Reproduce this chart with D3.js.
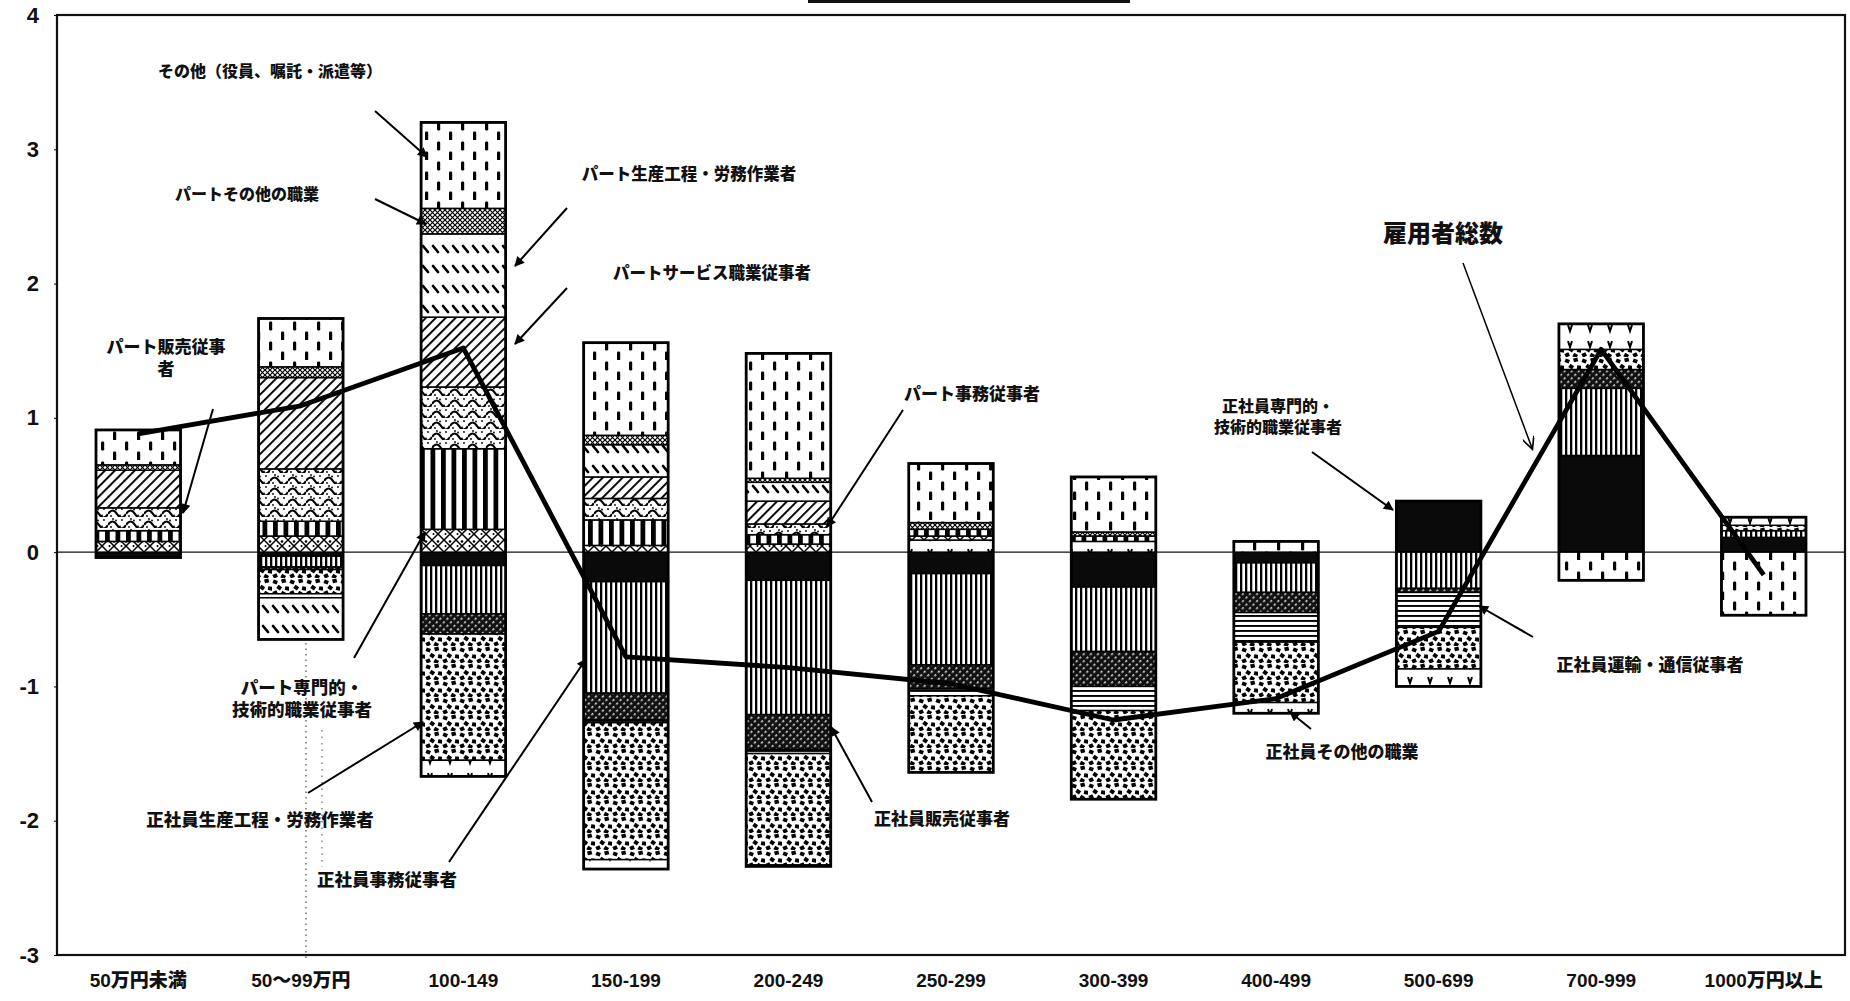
<!DOCTYPE html>
<html>
<head>
<meta charset="utf-8">
<script src="https://cdnjs.cloudflare.com/ajax/libs/d3/7.8.5/d3.min.js"></script>
<style>
body { margin: 0; background: #fff; }
text { font-family: "Noto Sans CJK JP", sans-serif; font-weight: 900; fill: #111; }
.num text, text.num { font-family: "Liberation Sans Narrow", "Liberation Sans", Arial, sans-serif; }
</style>
</head>
<body>
<div id="chart"></div>
<script>
// income bands (x axis)
var categories = ["50万円未満", "50～99万円", "100-149", "150-199", "200-249", "250-299",
	"300-399", "400-499", "500-699", "700-999", "1000万円以上"];

var seriesNames = [
	"正社員専門的・技術的職業従事者", "正社員事務従事者", "正社員販売従事者", "正社員運輸・通信従事者",
	"正社員生産工程・労務作業者", "正社員その他の職業",
	"パート専門的・技術的職業従事者", "パート事務従事者", "パート販売従事者", "パートサービス職業従事者",
	"パート生産工程・労務作業者", "パートその他の職業", "その他（役員、嘱託・派遣等）"];

// contribution of each group, one value per income band
var seiSenmon  = [-0.04, -0.03, -0.10, -0.22, -0.21, -0.16, -0.26, -0.08,  0.38,  0.72,  0.11];
var seiJimu    = [ 0.00, -0.08, -0.36, -0.83, -1.00, -0.68, -0.48, -0.22, -0.27,  0.50,  0.05];
var seiHanbai  = [ 0.00, -0.02, -0.15, -0.20, -0.26, -0.18, -0.26, -0.15, -0.03,  0.14,  0.00];
var seiUnyu    = [ 0.00,  0.00,  0.00, -0.02, -0.03, -0.05, -0.18, -0.22, -0.26,  0.00,  0.00];
var seiSeisan  = [ 0.00, -0.18, -0.94, -1.02, -0.83, -0.57, -0.66, -0.45, -0.31,  0.15,  0.04];
var seiSonota  = [ 0.00, -0.03, -0.12, -0.07, -0.01,  0.09,  0.08, -0.08, -0.13,  0.19,  0.06];
var paSenmon   = [ 0.08,  0.12,  0.17,  0.05,  0.06,  0.03,  0.00,  0.00,  0.00,  0.00,  0.00];
var paJimu     = [ 0.08,  0.11,  0.60,  0.19,  0.07,  0.05,  0.04,  0.00,  0.00,  0.00,  0.00];
var paHanbai   = [ 0.17,  0.39,  0.46,  0.16,  0.08,  0.00,  0.00,  0.00,  0.00,  0.00,  0.00];
var paService  = [ 0.28,  0.68,  0.52,  0.16,  0.17,  0.00,  0.00,  0.00,  0.00,  0.00,  0.00];
var paSeisan   = [ 0.00, -0.31,  0.62,  0.24,  0.14,  0.00,  0.00,  0.00,  0.00,  0.00,  0.00];
var paSonota   = [ 0.04,  0.08,  0.19,  0.07,  0.03,  0.05,  0.03,  0.00,  0.00,  0.00,  0.00];
var sonota     = [ 0.26,  0.36,  0.64,  0.69,  0.93,  0.44,  0.41,  0.08,  0.00, -0.21, -0.47];

// 雇用者総数 line
var totals = [0.88, 1.09, 1.52, -0.78, -0.86, -0.98, -1.25, -1.09, -0.59, 1.51, -0.17];

var yTicks = [-3, -2, -1, 0, 1, 2, 3, 4];

var seriesValues = [seiSenmon, seiJimu, seiHanbai, seiUnyu, seiSeisan, seiSonota,
	paSenmon, paJimu, paHanbai, paService, paSeisan, paSonota, sonota];

function addPatterns(defs) {
	function pat(id, w, h, rot, bg) {
		var p = defs.append("pattern")
			.attr("id", id)
			.attr("patternUnits", "userSpaceOnUse")
			.attr("width", w)
			.attr("height", h);
		if (rot) p.attr("patternTransform", "rotate(" + rot + ")");
		p.append("rect").attr("width", w).attr("height", h).attr("fill", bg || "#fff");
		return p;
	}
	var p;
	// 正社員事務: thin vertical lines
	pat("p1", 5, 10).append("rect").attr("width", 2.3).attr("height", 10).attr("fill", "#000");
	// 正社員販売: dark diagonal with light dots
	p = pat("p2", 5, 5, 45, "#111");
	p.append("rect").attr("x", 3.2).attr("width", 1.3).attr("height", 2.4).attr("fill", "#fff");
	// 正社員運輸: horizontal lines
	pat("p3", 10, 5).append("rect").attr("width", 10).attr("height", 1.9).attr("fill", "#000");
	// 正社員生産: scattered squares
	p = pat("p4", 17, 17);
	[[1, 2, 20], [9.5, 1, -15], [5, 7.5, 35], [13, 8.5, 10], [1, 13, -25], [9, 13.5, 30]].forEach(function(d) {
		p.append("rect").attr("x", d[0]).attr("y", d[1]).attr("width", 4.4).attr("height", 3.9)
			.attr("transform", "rotate(" + d[2] + "," + (d[0] + 2) + "," + (d[1] + 2) + ")")
			.attr("fill", "#000");
	});
	// 正社員その他: sparse marks
	p = pat("p5", 20, 16);
	p.append("path").attr("d", "M8 5 L10 11 L12 5").attr("stroke", "#000").attr("stroke-width", 2).attr("fill", "none");
	// パート専門的: crosses
	p = pat("p6", 12, 12);
	p.append("path").attr("d", "M0 0 L12 12 M12 0 L0 12").attr("stroke", "#000").attr("stroke-width", 1.5);
	p.append("circle").attr("cx", 6).attr("cy", 1.5).attr("r", 1.3).attr("fill", "#000");
	p.append("circle").attr("cx", 1.5).attr("cy", 6).attr("r", 1).attr("fill", "#000");
	// パート事務: thick vertical bars
	pat("p7", 10.5, 10).append("rect").attr("width", 4.8).attr("height", 10).attr("fill", "#000");
	// パート販売: waves
	p = pat("p8", 18, 11);
	p.append("path").attr("d", "M0 8 Q4.5 1 9 8 T18 8").attr("stroke", "#000").attr("stroke-width", 2.2).attr("fill", "none");
	[[3, 10], [14, 3], [8, 3.5], [12, 9.5], [5, 2]].forEach(function(d) {
		p.append("circle").attr("cx", d[0]).attr("cy", d[1]).attr("r", 0.9).attr("fill", "#000");
	});
	// パートサービス: thin diagonal
	pat("p9", 7, 7, 45).append("rect").attr("width", 1.9).attr("height", 7).attr("fill", "#000");
	// パート生産: short backslash dashes
	pat("p10", 10, 20).append("path").attr("d", "M3 6 L8 12").attr("stroke", "#000")
		.attr("stroke-width", 2.7).attr("stroke-linecap", "round");
	// パートその他: dense crosshatch
	pat("p11", 5, 5).append("path").attr("d", "M0 0 L5 5 M5 0 L0 5").attr("stroke", "#000").attr("stroke-width", 1.2);
	// その他: vertical dashes
	p = pat("p12", 24, 20);
	p.append("rect").attr("x", 5).attr("y", 1.5).attr("width", 3.2).attr("height", 9).attr("rx", 1.2).attr("fill", "#000");
	p.append("rect").attr("x", 17).attr("y", 11.5).attr("width", 3.2).attr("height", 9).attr("rx", 1.2).attr("fill", "#000");

	defs.append("marker").attr("id", "arrow")
		.attr("viewBox", "0 0 10 10").attr("refX", 9).attr("refY", 5)
		.attr("markerWidth", 14).attr("markerHeight", 10).attr("markerUnits", "userSpaceOnUse")
		.attr("orient", "auto")
		.append("path").attr("d", "M0 0 L10 5 L0 10 z").attr("fill", "#000");
	defs.append("marker").attr("id", "varrow")
		.attr("viewBox", "0 0 10 10").attr("refX", 9).attr("refY", 5)
		.attr("markerWidth", 16).attr("markerHeight", 12).attr("markerUnits", "userSpaceOnUse")
		.attr("orient", "auto")
		.append("path").attr("d", "M0 0 L10 5 L0 10").attr("fill", "none").attr("stroke", "#000").attr("stroke-width", 1.4);
}

function makeChart() {
	var width = 1850, height = 1001;
	var plot = {left: 57, right: 1845, top: 15, bottom: 955};
	var fills = ["#0a0a0a", "url(#p1)", "url(#p2)", "url(#p3)", "url(#p4)", "url(#p5)", "url(#p6)",
		"url(#p7)", "url(#p8)", "url(#p9)", "url(#p10)", "url(#p11)", "url(#p12)"];

	var rows = categories.map(function(c, i) {
		var r = {cat: c};
		seriesNames.forEach(function(s, k) { r[s] = seriesValues[k][i]; });
		return r;
	});

	var svg = d3.select("#chart").append("svg")
		.attr("width", width)
		.attr("height", height);
	addPatterns(svg.append("defs"));

	var x = d3.scaleBand()
		.domain(categories)
		.range([plot.left, plot.right])
		.paddingInner(0.48)
		.paddingOuter(0.24);
	var y = d3.scaleLinear().domain([-3, 4]).range([plot.bottom, plot.top]);

	// scan leftovers: cut title underline, dotted guide under 2nd bar
	svg.append("line").attr("x1", 808).attr("x2", 1130).attr("y1", 1.5).attr("y2", 1.5)
		.attr("stroke", "#111").attr("stroke-width", 3);
	svg.append("line").attr("x1", 306).attr("x2", 306).attr("y1", 643).attr("y2", 958)
		.attr("stroke", "#555").attr("stroke-width", 1.3).attr("stroke-dasharray", "1.5 4");
	svg.append("line").attr("x1", 322).attr("x2", 322).attr("y1", 730).attr("y2", 867)
		.attr("stroke", "#666").attr("stroke-width", 1.2).attr("stroke-dasharray", "1.5 5");

	svg.append("rect")
		.attr("x", plot.left).attr("y", plot.top)
		.attr("width", plot.right - plot.left).attr("height", plot.bottom - plot.top)
		.attr("fill", "none").attr("stroke", "#111").attr("stroke-width", 2.2);

	svg.append("line")
		.attr("x1", plot.left).attr("x2", plot.right)
		.attr("y1", y(0)).attr("y2", y(0))
		.attr("stroke", "#111").attr("stroke-width", 1.3);

	var yAxis = svg.append("g")
		.attr("class", "num")
		.attr("transform", "translate(" + plot.left + ",0)")
		.call(d3.axisLeft(y).tickValues(yTicks).tickSize(3).tickPadding(15)
			.tickFormat(function(d) { return d < 0 ? "-" + (-d) : String(d); }));
	yAxis.select(".domain").remove();
	yAxis.selectAll("text").attr("font-size", 22).attr("font-weight", "bold").attr("fill", "#111");

	var xAxis = svg.append("g")
		.attr("transform", "translate(0," + plot.bottom + ")")
		.call(d3.axisBottom(x).tickSize(0).tickPadding(19));
	xAxis.select(".domain").remove();
	xAxis.selectAll("text").attr("font-size", 19).attr("font-weight", "bold").attr("fill", "#111")
		.style("font-family", "'Liberation Sans Narrow', 'Liberation Sans', 'Noto Sans CJK JP', sans-serif");

	var stack = d3.stack().keys(seriesNames).offset(d3.stackOffsetDiverging);
	var layers = stack(rows);

	svg.append("g")
		.selectAll("g")
		.data(layers)
		.enter()
		.append("g")
			.attr("fill", function(d, i) { return fills[i]; })
		.selectAll("rect")
		.data(function(d) { return d.filter(function(v) { return v[1] - v[0] != 0; }); })
		.enter()
		.append("rect")
			.attr("x", function(d) { return x(d.data.cat); })
			.attr("width", x.bandwidth())
			.attr("y", function(d) { return y(d[1]); })
			.attr("height", function(d) { return y(d[0]) - y(d[1]); })
			.attr("stroke", "#000")
			.attr("stroke-width", 1.5);

	// outline of each whole bar
	svg.append("g")
		.selectAll("rect")
		.data(categories)
		.enter()
		.append("rect")
			.attr("x", function(d) { return x(d); })
			.attr("width", x.bandwidth())
			.attr("y", function(d, i) {
				return y(d3.sum(seriesValues, function(s) { return s[i] > 0 ? s[i] : 0; }));
			})
			.attr("height", function(d, i) {
				var pos = d3.sum(seriesValues, function(s) { return s[i] > 0 ? s[i] : 0; });
				var neg = d3.sum(seriesValues, function(s) { return s[i] < 0 ? s[i] : 0; });
				return y(neg) - y(pos);
			})
			.attr("fill", "none")
			.attr("stroke", "#000")
			.attr("stroke-width", 2.8);

	var line = d3.line()
		.x(function(d, i) { return x(categories[i]) + x.bandwidth() / 2; })
		.y(function(d) { return y(d); });
	svg.append("path")
		.datum(totals)
		.attr("d", line)
		.attr("fill", "none")
		.attr("stroke", "#000")
		.attr("stroke-width", 4.8)
		.attr("stroke-linejoin", "round");

	// call-out labels and their arrows
	var notes = [
		{t: ["その他（役員、嘱託・派遣等）"], x: 270, y: 70, s: 16, a: [375, 111, 427, 157]},
		{t: ["パートその他の職業"], x: 247, y: 193, s: 16, a: [375, 199, 426, 224]},
		{t: ["パート生産工程・労務作業者"], x: 689, y: 173, s: 16.5, a: [567, 208, 515, 266]},
		{t: ["パートサービス職業従事者"], x: 712, y: 272, s: 16.5, a: [567, 288, 515, 344]},
		{t: ["パート販売従事", "者"], x: 166, y: 345, s: 17, a: [213, 409, 183, 513]},
		{t: ["パート事務従事者"], x: 972, y: 392, s: 17, a: [903, 410, 827, 527]},
		{t: ["正社員専門的・", "技術的職業従事者"], x: 1278, y: 405, s: 16, a: [1312, 452, 1393, 510]},
		{t: ["パート専門的・", "技術的職業従事者"], x: 302, y: 686, s: 17.5, a: [354, 658, 425, 532]},
		{t: ["正社員生産工程・労務作業者"], x: 260, y: 818, s: 17.5, a: [308, 793, 423, 722]},
		{t: ["正社員事務従事者"], x: 387, y: 878, s: 17.5, a: [449, 862, 586, 659]},
		{t: ["正社員販売従事者"], x: 942, y: 817, s: 17, a: [872, 802, 831, 727]},
		{t: ["正社員その他の職業"], x: 1342, y: 750, s: 17, a: [1311, 729, 1290, 712]},
		{t: ["正社員運輸・通信従事者"], x: 1650, y: 663, s: 17, a: [1533, 637, 1479, 606]}
	];
	var g = svg.append("g");
	notes.forEach(function(n) {
		n.t.forEach(function(line, j) {
			g.append("text")
				.attr("x", n.x)
				.attr("y", n.y + j * (n.s + 5))
				.attr("text-anchor", "middle")
				.attr("dominant-baseline", "central")
				.attr("font-size", n.s)
				.text(line);
		});
		g.append("line")
			.attr("x1", n.a[0]).attr("y1", n.a[1])
			.attr("x2", n.a[2]).attr("y2", n.a[3])
			.attr("stroke", "#000").attr("stroke-width", 2)
			.attr("marker-end", "url(#arrow)");
	});

	g.append("text")
		.attr("x", 1443).attr("y", 231)
		.attr("text-anchor", "middle")
		.attr("dominant-baseline", "central")
		.attr("font-size", 24)
		.attr("font-weight", 500)
		.text("雇用者総数");
	g.append("line")
		.attr("x1", 1463).attr("y1", 263)
		.attr("x2", 1532).attr("y2", 448)
		.attr("stroke", "#000").attr("stroke-width", 1.5)
		.attr("marker-end", "url(#varrow)");

	return svg;
}

makeChart();
</script>
</body>
</html>
